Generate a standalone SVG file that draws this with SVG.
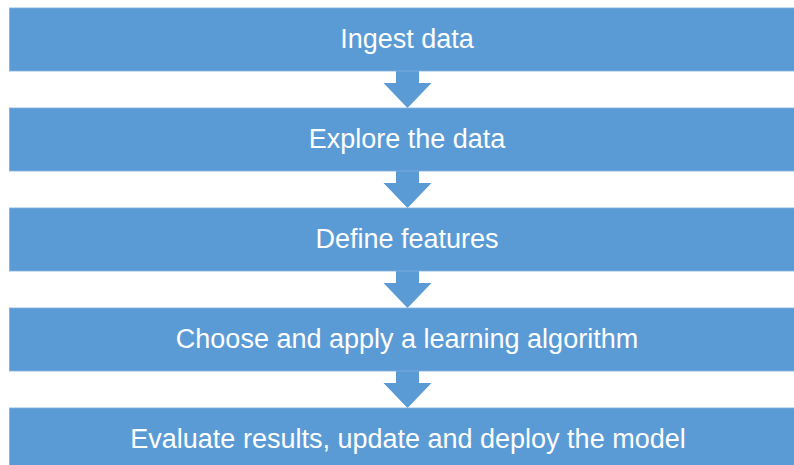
<svg xmlns="http://www.w3.org/2000/svg" width="794" height="465" viewBox="0 0 794 465">
<style>
.box{fill:#5B9BD5;stroke:#7FB0DE;stroke-width:0.8}
.lbl{font-family:"Liberation Sans",Arial,sans-serif;font-size:27px;fill:#FFFFFF;text-anchor:middle}
.arr{fill:#5B9BD5}
</style>
<rect width="794" height="465" fill="#FFFFFF"/>
<g id="connectors">
<polygon class="arr" points="396,71 419,71 419,83 431.5,83 407.5,108 383.5,83 396,83"/>
<polygon class="arr" points="396,171 419,171 419,183 431.5,183 407.5,208 383.5,183 396,183"/>
<polygon class="arr" points="396,271 419,271 419,283 431.5,283 407.5,308 383.5,283 396,283"/>
<polygon class="arr" points="396,371 419,371 419,383 431.5,383 407.5,408 383.5,383 396,383"/>
</g>
<g id="node1"><rect class="box" x="9.5" y="8" width="790" height="63"/><text class="lbl" x="407" y="48">Ingest data</text></g>
<g id="node2"><rect class="box" x="9.5" y="108" width="790" height="63"/><text class="lbl" x="407" y="148">Explore the data</text></g>
<g id="node3"><rect class="box" x="9.5" y="208" width="790" height="63"/><text class="lbl" x="407" y="248">Define features</text></g>
<g id="node4"><rect class="box" x="9.5" y="308" width="790" height="63"/><text class="lbl" x="407" y="348">Choose and apply a learning algorithm</text></g>
<g id="node5"><rect class="box" x="9.5" y="408" width="790" height="63"/><text class="lbl" x="408" y="448">Evaluate results, update and deploy the model</text></g>
</svg>
